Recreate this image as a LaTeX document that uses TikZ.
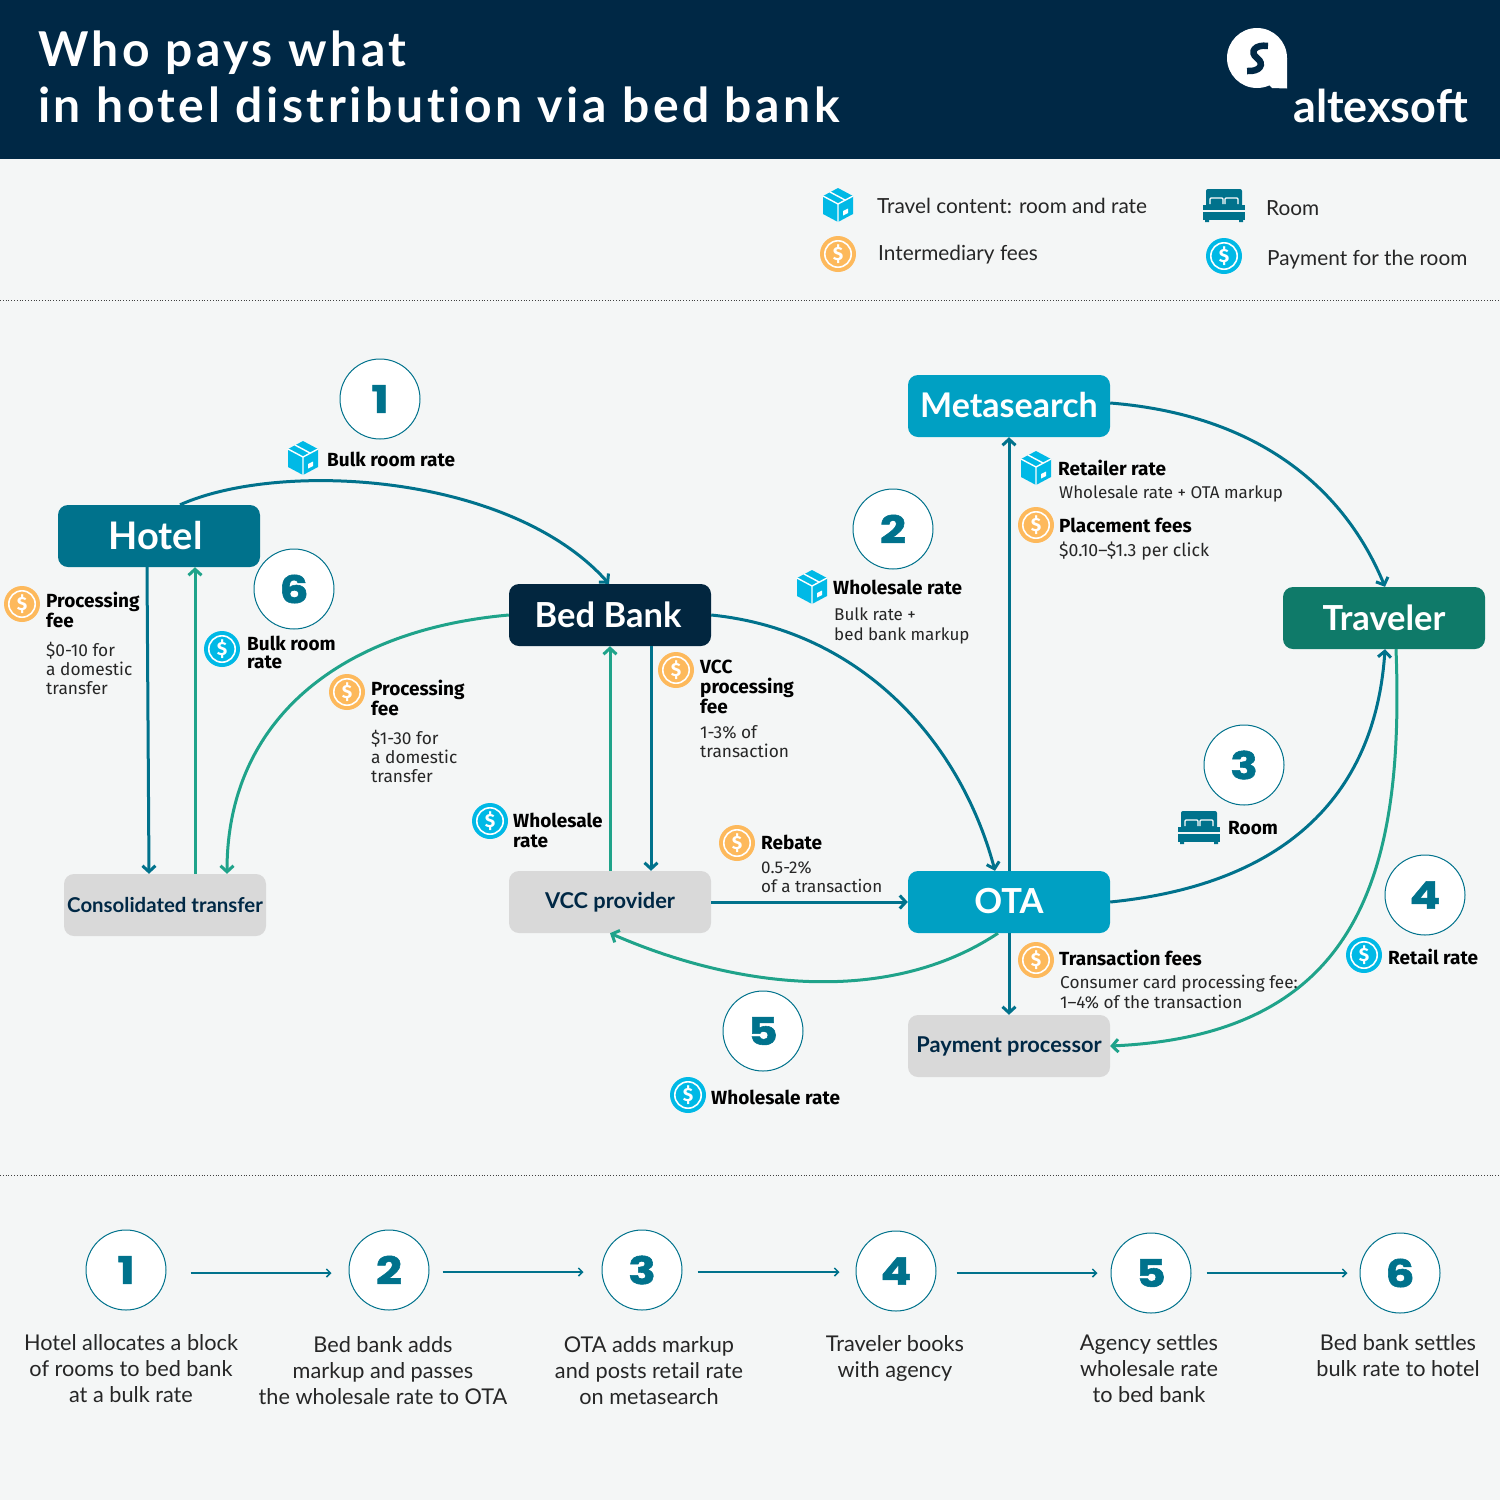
\documentclass[tikz,border=0pt]{standalone}
\usepackage{fontspec}
\setmainfont{Lato}
\newfontfamily\titlefont[LetterSpace=7.5,Ligatures=NoCommon]{Lato}
\newfontfamily\plexfont{Fira Sans}
\newfontfamily\numfont[BoldFeatures={FakeBold=1.5,FakeStretch=1.2}]{Poppins}
\usetikzlibrary{arrows.meta,calc}
\definecolor{navy}{HTML}{002845}
\definecolor{bbank}{HTML}{02263F}
\definecolor{teal}{HTML}{00728C}
\definecolor{azure}{HTML}{00A0C3}
\definecolor{forest}{HTML}{0F7A69}
\definecolor{greybox}{HTML}{D9D9D9}
\definecolor{grn}{HTML}{1FA38A}
\definecolor{orng}{HTML}{FDB95C}
\definecolor{cyanic}{HTML}{00B9E6}
\definecolor{paper}{HTML}{F4F6F6}
\newcommand{\fs}[2]{\fontsize{#1}{#2}\selectfont}
\newcommand{\up}[1]{\raisebox{1.5pt}{#1}}
\newcommand{\dn}[1]{\raisebox{-1.5pt}{#1}}
\newcommand{\dnn}[1]{\raisebox{-3.2pt}{#1}}
\tikzset{
  mainbox/.style={rectangle,rounded corners=10pt,minimum width=202pt,minimum height=62pt,inner sep=0pt,text=white,font=\fs{34.5}{36}\bfseries},
  greyrect/.style={mainbox,fill=greybox,text=navy,font=\fs{21.8}{24}\bfseries},
  numc/.style={circle,draw=teal,line width=1pt,fill=white,minimum size=80pt,inner sep=0pt,text=teal,font=\numfont\fs{38}{40}\bfseries},
  hd/.style={anchor=west,inner sep=0pt,align=left,text=black,font=\plexfont\fs{19}{20}\bfseries},
  sub/.style={anchor=west,inner sep=0pt,align=left,text=black!85,font=\plexfont\fs{17.3}{19}},
  legendtxt/.style={anchor=west,inner sep=0pt,text=black!85,font=\fs{20.8}{24}},
  steptxt/.style={anchor=center,inner sep=0pt,align=center,text=black!85,font=\fs{21.7}{26}},
  tealarrow/.style={draw=teal,line width=3pt,-{Straight Barb[length=6pt,width=13pt]}},
  grnarrow/.style={draw=grn,line width=3pt,-{Straight Barb[length=6pt,width=13pt]}},
  steparrow/.style={draw=teal,line width=1.5pt,-{Straight Barb[length=4pt,width=8pt]}},
  divider/.style={draw=black!75,line width=.8pt,dotted},
  coin/.pic={
    \fill[pic actions] (0,0) circle (18pt);
    \draw[white,line width=1.6pt] (0,0) circle (13.2pt);
    \node[text=white,inner sep=0pt,font=\plexfont\fs{19}{20}\bfseries] (-d) at (0,0) {\$};
  },
  cube/.pic={
    \fill[cyanic] (0,-17) -- (15,-9) -- (15,9) -- (0,17) -- (-15,9) -- (-15,-9) -- cycle;
    \draw[white,line width=1.4pt] (-15,-9) -- (0,-1) -- (15,-9) (0,-1) -- (0,17);
    \draw[white,line width=1.4pt] (-8,-13) -- (7,-5);
    \fill[white] (5,6) -- (10,3.5) -- (10,8) -- (5,10.5) -- cycle;
  },
  bed/.pic={
    \fill[teal,rounded corners=2pt] (-18,-16) rectangle (18,2);
    \draw[white,line width=1.2pt,rounded corners=1pt] (-14,-1) -- (-14,-7) -- (-1,-7) -- (-1,-1) (1,-1) -- (1,-7) -- (14,-7) -- (14,-1);
    \fill[teal] (-21,0) rectangle (21,5);
    \fill[teal] (-21,7) rectangle (21,15);
    \fill[teal] (-19,15) rectangle (-15,17) (15,15) rectangle (19,17);
  }
}
\begin{document}
\begin{tikzpicture}[x=1pt,y=-1pt]
\useasboundingbox (0,0) rectangle (1500,1500);
\fill[paper] (0,0) rectangle (1500,1500);
\fill[navy] (0,0) rectangle (1500,159);
\node[anchor=base west,inner sep=0pt,text=white,font=\titlefont\fs{48}{56}\bfseries] (title1) at (38,66) {Who pays what};
\node[anchor=base west,inner sep=0pt,text=white,font=\titlefont\fs{48}{56}\bfseries] (title2) at (38,122) {in hotel distribution via bed bank};
% logo
\fill[white] (1257,58) circle (30pt);
\fill[white] (1287,58) -- (1287,88.5) -- (1272,88) -- (1268,84) -- cycle;
\draw[navy,line width=6.5pt] (1268,46) .. controls (1255,44) and (1249,52) .. (1257,58) .. controls (1265,64) and (1260,72) .. (1247,71);
\node[anchor=base east,inner sep=0pt,text=white,font=\fs{45}{48}\bfseries] (logotxt) at (1468,122) {altexsoft};
% dividers
\draw[divider] (0,300) -- (1500,300);
\draw[divider] (0,1175) -- (1500,1175);
% legend
\pic at (838,205) {cube};
\pic[orng] (lfee) at (838,254) {coin};
\pic at (1224,205) {bed};
\pic[cyanic] (lpay) at (1224,256) {coin};
\node[legendtxt] (l1) at (877,206) {Travel content: room and rate};
\node[legendtxt] (l2) at (878,255) {Intermediary fees};
\node[legendtxt] (l3) at (1266,208) {Room};
\node[legendtxt] (l4) at (1267,260) {Payment for the room};
% main nodes
\node[mainbox,fill=teal,font=\fs{38}{40}\bfseries] (hotel) at (159,536) {\up{Hotel\hspace{7pt}}};
\node[mainbox,fill=bbank] (bedbank) at (610,615) {\up{Bed Bank\hspace{4pt}}};
\node[mainbox,fill=azure,font=\fs{34}{36}\bfseries] (meta) at (1009,406) {\up{Metasearch}};
\node[mainbox,fill=forest] (traveler) at (1384,618) {\up{Traveler}};
\node[mainbox,fill=azure] (ota) at (1009,902) {\up{OTA}};
\node[greyrect,font=\fs{20.4}{24}\bfseries] (cons) at (165,905) {Consolidated transfer};
\node[greyrect] (vcc) at (610,902) {\dnn{VCC provider}};
\node[greyrect] (pay) at (1009,1046) {\dnn{Payment processor}};
% connectors
\draw[tealarrow] ([xshift=21pt]hotel.north) .. controls (280,460) and (510,473) .. ([xshift=-1pt]bedbank.north);
\draw[tealarrow] ([xshift=-12pt]hotel.south) -- ([xshift=-16pt]cons.north);
\draw[grnarrow] ([xshift=30pt]cons.north) -- ([xshift=36pt]hotel.south);
\draw[grnarrow] (bedbank.west) .. controls (340,630) and (227,720) .. ([xshift=62pt]cons.north);
\draw[tealarrow] (bedbank.east) .. controls (860,630) and (960,740) .. ([xshift=-14pt]ota.north);
\draw[grnarrow] (vcc.north) -- (bedbank.south);
\draw[tealarrow] ([xshift=41pt]bedbank.south) -- ([xshift=41pt]vcc.north);
\draw[tealarrow] (vcc.east) -- (ota.west);
\draw[grnarrow] ([xshift=-11pt]ota.south) .. controls (890,1005) and (740,990) .. (vcc.south);
\draw[tealarrow] (ota.north) -- (meta.south);
\draw[tealarrow] (ota.south) -- (pay.north);
\draw[tealarrow] ([yshift=3pt]meta.east) .. controls (1260,415) and (1345,490) .. ([xshift=1pt]traveler.north);
\draw[tealarrow] (ota.east) .. controls (1280,885) and (1375,800) .. ([xshift=1pt]traveler.south);
\draw[grnarrow] ([xshift=12pt]traveler.south) .. controls (1405,880) and (1355,1035) .. (pay.east);
% numbers
\node[numc] (n1) at (380,399) {\dn{1}};
\node[numc] (n2) at (893,529) {\dn{2}};
\node[numc] (n3) at (1244,765) {\dn{3}};
\node[numc] (n4) at (1425,895) {\dn{4}};
\node[numc] (n5) at (763,1031) {\dn{5}};
\node[numc] (n6) at (294,589) {\dn{6}};
% icons
\pic at (303,458) {cube};
\pic at (812,587) {cube};
\pic at (1036,468) {cube};
\pic at (1199,827) {bed};
\pic[orng] (f1) at (22,604) {coin};
\pic[orng] (f2) at (347,692) {coin};
\pic[orng] (f3) at (676,670) {coin};
\pic[orng] (f4) at (737,843) {coin};
\pic[orng] (f5) at (1036,525) {coin};
\pic[orng] (f6) at (1036,960) {coin};
\pic[cyanic] (p1) at (222,649) {coin};
\pic[cyanic] (p2) at (490,821) {coin};
\pic[cyanic] (p3) at (688,1095) {coin};
\pic[cyanic] (p4) at (1364,955) {coin};
% labels
\node[hd] (t1) at (327,459) {Bulk room rate};
\node[hd] (t2) at (46,610) {Processing\\fee};
\node[sub] (t3) at (46,668) {\$0-10 for\\a domestic\\transfer};
\node[hd,font=\plexfont\fs{19}{18}\bfseries] (t4) at (247,652) {Bulk room\\rate};
\node[hd] (t5) at (371,698) {Processing\\fee};
\node[sub] (t6) at (371,756) {\$1-30 for\\a domestic\\transfer};
\node[hd] (t7) at (700,687) {VCC\\processing\\fee};
\node[sub] (t8) at (700,742) {1-3\% of\\transaction};
\node[hd] (t9) at (833,587) {Wholesale rate};
\node[sub,font=\plexfont\fs{17}{20}] (t10) at (834,626) {Bulk rate +\\bed bank markup};
\node[hd] (t11) at (1058,468) {Retailer rate};
\node[sub,font=\plexfont\fs{17}{19}] (t12) at (1059,494) {Wholesale rate + OTA markup};
\node[hd] (t13) at (1059,525) {Placement fees};
\node[sub,font=\plexfont\fs{17.7}{19}] (t14) at (1059,551) {\$0.10–\$1.3 per click};
\node[hd] (t15) at (513,830) {Wholesale\\rate};
\node[hd] (t16) at (761,842) {Rebate};
\node[sub,font=\plexfont\fs{17}{19}] (t17) at (761,877) {0.5-2\%\\of a transaction};
\node[hd] (t18) at (1059,958) {Transaction fees};
\node[sub,font=\plexfont\fs{17.2}{20}] (t19) at (1060,992) {Consumer card processing fee:\\1–4\% of the transaction};
\node[hd] (t20) at (1228,828) {Room};
\node[hd] (t21) at (1388,957) {Retail rate};
\node[hd] (t22) at (711,1097) {Wholesale rate};
% steps
\node[numc] (s1) at (126,1270) {\dn{1}};
\node[numc] (s2) at (389,1270) {\dn{2}};
\node[numc] (s3) at (642,1270) {\dn{3}};
\node[numc] (s4) at (896,1271) {\dn{4}};
\node[numc] (s5) at (1151,1273) {\dn{5}};
\node[numc] (s6) at (1400,1273) {\dn{6}};
\draw[steparrow] ([xshift=24pt,yshift=-3pt]s1.east) -- ([xshift=-17pt,yshift=-3pt]s2.west);
\draw[steparrow] ([xshift=13pt,yshift=-2pt]s2.east) -- ([xshift=-18pt,yshift=-2pt]s3.west);
\draw[steparrow] ([xshift=15pt,yshift=-2pt]s3.east) -- ([xshift=-16pt,yshift=-1pt]s4.west);
\draw[steparrow] ([xshift=20pt,yshift=-2pt]s4.east) -- ([xshift=-13pt]s5.west);
\draw[steparrow] ([xshift=15pt]s5.east) -- ([xshift=-12pt]s6.west);
\node[steptxt] (d1) at (131,1369) {Hotel allocates a block\\of rooms to bed bank\\at a bulk rate};
\node[steptxt] (d2) at (383,1371) {Bed bank adds\\markup and passes\\the wholesale rate to OTA};
\node[steptxt] (d3) at (649,1371) {OTA adds markup\\and posts retail rate\\on metasearch};
\node[steptxt] (d4) at (895,1358) {Traveler books\\with agency};
\node[steptxt] (d5) at (1149,1369) {Agency settles\\wholesale rate\\to bed bank};
\node[steptxt] (d6) at (1398,1356) {Bed bank settles\\bulk rate to hotel};
\end{tikzpicture}
\end{document}
